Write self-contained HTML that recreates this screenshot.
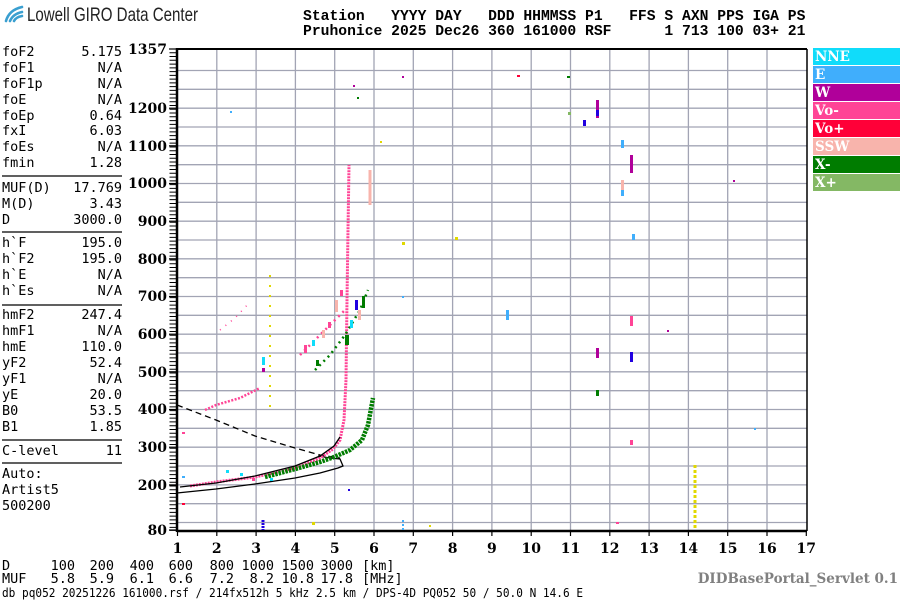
<!DOCTYPE html>
<html><head><meta charset="utf-8"><style>
html,body{margin:0;padding:0;background:#fff;width:900px;height:600px;overflow:hidden}
svg{display:block}
.m{font-family:"DejaVu Sans Mono","Liberation Mono",monospace;font-size:13.5px;fill:#000}
.h{font-family:"Liberation Mono","DejaVu Sans Mono",monospace;font-size:14.7px;font-weight:bold;fill:#000}
.t{font-family:"DejaVu Serif","Liberation Serif",serif;font-size:14px;font-weight:bold;fill:#000}
.lg{font-family:"DejaVu Serif","Liberation Serif",serif;font-size:13.5px;font-weight:bold;fill:#fff}
.b{font-family:"DejaVu Sans Mono","Liberation Mono",monospace;font-size:12.5px;fill:#000}
</style></head><body>
<svg width="900" height="600" viewBox="0 0 900 600" xmlns="http://www.w3.org/2000/svg">
<g fill="none" stroke="#3a9fd0" stroke-width="2.6" stroke-linecap="round">
<path d="M6 21 Q9 10 22 7"/><path d="M10 21 Q13 14 22 12"/><path d="M14 21 Q16 17 22 16"/>
</g>
<text x="27" y="21" font-family="'Liberation Sans Narrow','Liberation Sans',sans-serif" font-size="19.5" fill="#222" textLength="171" lengthAdjust="spacingAndGlyphs">Lowell GIRO Data Center</text>
<text class="h" x="303" y="20" xml:space="preserve">Station   YYYY DAY   DDD HHMMSS P1   FFS S AXN PPS IGA PS</text>
<text class="h" x="303" y="35" xml:space="preserve">Pruhonice 2025 Dec26 360 161000 RSF      1 713 100 03+ 21</text>
<g class="m">
<text x="2" y="56">foF2</text><text x="122" y="56" text-anchor="end">5.175</text>
<text x="2" y="72">foF1</text><text x="122" y="72" text-anchor="end">N/A</text>
<text x="2" y="88">foF1p</text><text x="122" y="88" text-anchor="end">N/A</text>
<text x="2" y="104">foE</text><text x="122" y="104" text-anchor="end">N/A</text>
<text x="2" y="120">foEp</text><text x="122" y="120" text-anchor="end">0.64</text>
<text x="2" y="135">fxI</text><text x="122" y="135" text-anchor="end">6.03</text>
<text x="2" y="151">foEs</text><text x="122" y="151" text-anchor="end">N/A</text>
<text x="2" y="167">fmin</text><text x="122" y="167" text-anchor="end">1.28</text>
<text x="2" y="192">MUF(D)</text><text x="122" y="192" text-anchor="end">17.769</text>
<text x="2" y="208">M(D)</text><text x="122" y="208" text-anchor="end">3.43</text>
<text x="2" y="224">D</text><text x="122" y="224" text-anchor="end">3000.0</text>
<text x="2" y="247">h`F</text><text x="122" y="247" text-anchor="end">195.0</text>
<text x="2" y="263">h`F2</text><text x="122" y="263" text-anchor="end">195.0</text>
<text x="2" y="279">h`E</text><text x="122" y="279" text-anchor="end">N/A</text>
<text x="2" y="295">h`Es</text><text x="122" y="295" text-anchor="end">N/A</text>
<text x="2" y="319">hmF2</text><text x="122" y="319" text-anchor="end">247.4</text>
<text x="2" y="335">hmF1</text><text x="122" y="335" text-anchor="end">N/A</text>
<text x="2" y="351">hmE</text><text x="122" y="351" text-anchor="end">110.0</text>
<text x="2" y="367">yF2</text><text x="122" y="367" text-anchor="end">52.4</text>
<text x="2" y="383">yF1</text><text x="122" y="383" text-anchor="end">N/A</text>
<text x="2" y="399">yE</text><text x="122" y="399" text-anchor="end">20.0</text>
<text x="2" y="415">B0</text><text x="122" y="415" text-anchor="end">53.5</text>
<text x="2" y="431">B1</text><text x="122" y="431" text-anchor="end">1.85</text>
<text x="2" y="455">C-level</text><text x="122" y="455" text-anchor="end">11</text>
<text x="2" y="478">Auto:</text>
<text x="2" y="494">Artist5</text>
<text x="2" y="510">500200</text>
</g>
<g stroke="#000" stroke-width="1.2">
<line x1="2" y1="176" x2="122" y2="176"/><line x1="2" y1="232" x2="122" y2="232"/>
<line x1="2" y1="305" x2="122" y2="305"/><line x1="2" y1="440" x2="122" y2="440"/>
<line x1="2" y1="463" x2="122" y2="463"/>
</g>
<g stroke="#a2a4b4" stroke-width="1.3">
<line x1="216.8" y1="49" x2="216.8" y2="531"/><line x1="256.1" y1="49" x2="256.1" y2="531"/>
<line x1="295.4" y1="49" x2="295.4" y2="531"/><line x1="334.7" y1="49" x2="334.7" y2="531"/>
<line x1="374" y1="49" x2="374" y2="531"/><line x1="413.3" y1="49" x2="413.3" y2="531"/>
<line x1="452.6" y1="49" x2="452.6" y2="531"/><line x1="491.9" y1="49" x2="491.9" y2="531"/>
<line x1="531.2" y1="49" x2="531.2" y2="531"/><line x1="570.5" y1="49" x2="570.5" y2="531"/>
<line x1="609.8" y1="49" x2="609.8" y2="531"/><line x1="649.1" y1="49" x2="649.1" y2="531"/>
<line x1="688.4" y1="49" x2="688.4" y2="531"/><line x1="727.7" y1="49" x2="727.7" y2="531"/>
<line x1="767" y1="49" x2="767" y2="531"/>
<line x1="177" y1="70.5" x2="807" y2="70.5"/><line x1="177" y1="89.3" x2="807" y2="89.3"/>
<line x1="177" y1="108.2" x2="807" y2="108.2"/><line x1="177" y1="127" x2="807" y2="127"/>
<line x1="177" y1="145.8" x2="807" y2="145.8"/><line x1="177" y1="164.7" x2="807" y2="164.7"/>
<line x1="177" y1="183.5" x2="807" y2="183.5"/><line x1="177" y1="202.3" x2="807" y2="202.3"/>
<line x1="177" y1="221.2" x2="807" y2="221.2"/><line x1="177" y1="240" x2="807" y2="240"/>
<line x1="177" y1="258.8" x2="807" y2="258.8"/><line x1="177" y1="277.7" x2="807" y2="277.7"/>
<line x1="177" y1="296.5" x2="807" y2="296.5"/><line x1="177" y1="315.3" x2="807" y2="315.3"/>
<line x1="177" y1="334.2" x2="807" y2="334.2"/><line x1="177" y1="353" x2="807" y2="353"/>
<line x1="177" y1="371.8" x2="807" y2="371.8"/><line x1="177" y1="390.7" x2="807" y2="390.7"/>
<line x1="177" y1="409.5" x2="807" y2="409.5"/><line x1="177" y1="428.3" x2="807" y2="428.3"/>
<line x1="177" y1="447.2" x2="807" y2="447.2"/><line x1="177" y1="466" x2="807" y2="466"/>
<line x1="177" y1="484.9" x2="807" y2="484.9"/><line x1="177" y1="503.7" x2="807" y2="503.7"/>
<line x1="177" y1="522.5" x2="807" y2="522.5"/>
</g>
<g stroke="#000" fill="none">
<line x1="177" y1="49" x2="807" y2="49" stroke-width="2"/>
<line x1="807" y1="49" x2="807" y2="531" stroke-width="1.5"/>
<line x1="177" y1="48" x2="177" y2="532" stroke-width="2.5"/>
<line x1="177" y1="531" x2="807" y2="531" stroke-width="2.5"/>
</g>
<line x1="173" y1="49" x2="173" y2="531" stroke="#000" stroke-width="7" stroke-dasharray="1 2.767" stroke-dashoffset="0.5"/>
<g stroke="#000" stroke-width="1.2">
<line x1="169" y1="49" x2="177" y2="49"/><line x1="169" y1="108.2" x2="177" y2="108.2"/>
<line x1="169" y1="145.8" x2="177" y2="145.8"/><line x1="169" y1="183.5" x2="177" y2="183.5"/>
<line x1="169" y1="221.2" x2="177" y2="221.2"/><line x1="169" y1="258.8" x2="177" y2="258.8"/>
<line x1="169" y1="296.5" x2="177" y2="296.5"/><line x1="169" y1="334.2" x2="177" y2="334.2"/>
<line x1="169" y1="371.8" x2="177" y2="371.8"/><line x1="169" y1="409.5" x2="177" y2="409.5"/>
<line x1="169" y1="447.2" x2="177" y2="447.2"/><line x1="169" y1="484.9" x2="177" y2="484.9"/>
<line x1="169" y1="530" x2="177" y2="530"/>
</g>
<g stroke="#000" stroke-width="1.2">
<line x1="177.5" y1="531" x2="177.5" y2="536"/><line x1="216.8" y1="531" x2="216.8" y2="536"/><line x1="256.1" y1="531" x2="256.1" y2="536"/><line x1="295.4" y1="531" x2="295.4" y2="536"/><line x1="334.7" y1="531" x2="334.7" y2="536"/><line x1="374" y1="531" x2="374" y2="536"/><line x1="413.3" y1="531" x2="413.3" y2="536"/><line x1="452.6" y1="531" x2="452.6" y2="536"/><line x1="491.9" y1="531" x2="491.9" y2="536"/><line x1="531.2" y1="531" x2="531.2" y2="536"/><line x1="570.5" y1="531" x2="570.5" y2="536"/><line x1="609.8" y1="531" x2="609.8" y2="536"/><line x1="649.1" y1="531" x2="649.1" y2="536"/><line x1="688.4" y1="531" x2="688.4" y2="536"/><line x1="727.7" y1="531" x2="727.7" y2="536"/><line x1="767" y1="531" x2="767" y2="536"/><line x1="806.3" y1="531" x2="806.3" y2="536"/>
</g>
<g class="t" text-anchor="end">
<text x="167" y="54">1357</text><text x="167" y="113">1200</text><text x="167" y="151">1100</text>
<text x="167" y="188">1000</text><text x="167" y="226">900</text><text x="167" y="264">800</text>
<text x="167" y="301">700</text><text x="167" y="339">600</text><text x="167" y="377">500</text>
<text x="167" y="414">400</text><text x="167" y="452">300</text><text x="167" y="490">200</text>
<text x="167" y="535">80</text>
</g>
<g class="t" text-anchor="middle">
<text x="177.5" y="553">1</text><text x="216.8" y="553">2</text><text x="256.1" y="553">3</text><text x="295.4" y="553">4</text><text x="334.7" y="553">5</text><text x="374" y="553">6</text><text x="413.3" y="553">7</text><text x="452.6" y="553">8</text><text x="491.9" y="553">9</text><text x="531.2" y="553">10</text><text x="570.5" y="553">11</text><text x="609.8" y="553">12</text><text x="649.1" y="553">13</text><text x="688.4" y="553">14</text><text x="727.7" y="553">15</text><text x="767" y="553">16</text><text x="806.3" y="553">17</text>
</g>
<rect x="813" y="48" width="87" height="17" fill="#10dcfa"/><text class="lg" x="815" y="61">NNE</text>
<rect x="813" y="66" width="87" height="17" fill="#40aefc"/><text class="lg" x="815" y="79">E</text>
<rect x="813" y="84" width="87" height="17" fill="#b0009a"/><text class="lg" x="815" y="97">W</text>
<rect x="813" y="102" width="87" height="17" fill="#ff4496"/><text class="lg" x="815" y="115">Vo-</text>
<rect x="813" y="120" width="87" height="17" fill="#ff0038"/><text class="lg" x="815" y="133">Vo+</text>
<rect x="813" y="138" width="87" height="17" fill="#f8b4ac"/><text class="lg" x="815" y="151">SSW</text>
<rect x="813" y="156" width="87" height="17" fill="#007c00"/><text class="lg" x="815" y="169">X-</text>
<rect x="813" y="174" width="87" height="17" fill="#84b864"/><text class="lg" x="815" y="187">X+</text>
<g fill="none">
<polyline points="177,493 216,489 255,484 295,478 320,473 338,468 343,466 340,459 330,458 318,456" stroke="#000" stroke-width="1.3"/>
<polyline points="177,405 216,420 255,436 295,448 320,455 340,458" stroke="#000" stroke-width="1.3" stroke-dasharray="6 4"/>
<polyline points="190,486 216,482 255,477 295,468 320,458 333,449 340,440 344,420 346,380 347,300 348,230 349,165" stroke="#ff4496" stroke-width="3" stroke-dasharray="2 1"/>
<polyline points="180,487 216,483 255,476 295,466 320,456 334,446 340,437" stroke="#000" stroke-width="1.3"/>
<polyline points="205,410 216,405 240,398 260,388" stroke="#ff4496" stroke-width="2.5" stroke-dasharray="2 1.5"/>
<polyline points="265,477 299,468 320,462 334,457 350,450 362,440 368,425 373,398" stroke="#007c00" stroke-width="4.5" stroke-dasharray="2.5 1"/>
<polyline points="300,355 320,335 335,320 345,310" stroke="#ff4496" stroke-width="2.5" stroke-dasharray="2 4"/>
<polyline points="315,370 330,355 345,335 360,310 368,290" stroke="#007c00" stroke-width="2.5" stroke-dasharray="2 4"/>
<polyline points="220,330 235,318 250,302" stroke="#ff4496" stroke-width="1.5" stroke-dasharray="1 6"/>
<polyline points="270,275 270,410" stroke="#e0d800" stroke-width="2" stroke-dasharray="2 8"/>
<polyline points="695,465 695,530" stroke="#e0d800" stroke-width="3" stroke-dasharray="3 2"/>
<polyline points="370,170 370,205" stroke="#f8b4ac" stroke-width="3"/>
<polyline points="263,520 263,530" stroke="#2000e0" stroke-width="3" stroke-dasharray="2 1"/>
<polyline points="403,520 403,530" stroke="#40aefc" stroke-width="2" stroke-dasharray="2 2"/>
</g>
<g>
<rect x="304" y="345" width="3" height="8" fill="#ff4496"/><rect x="312" y="340" width="3" height="6" fill="#10dcfa"/>
<rect x="322" y="330" width="3" height="8" fill="#f8b4ac"/><rect x="328" y="322" width="3" height="6" fill="#ff4496"/>
<rect x="335" y="300" width="3" height="12" fill="#f8b4ac"/><rect x="340" y="290" width="3" height="6" fill="#ff4496"/>
<rect x="355" y="300" width="3" height="10" fill="#2000e0"/><rect x="358" y="310" width="3" height="10" fill="#f8b4ac"/>
<rect x="362" y="296" width="3" height="12" fill="#007c00"/><rect x="345" y="335" width="4" height="10" fill="#007c00"/>
<rect x="350" y="320" width="3" height="8" fill="#10dcfa"/><rect x="316" y="360" width="3" height="6" fill="#007c00"/>
<rect x="226" y="470" width="3" height="3" fill="#10dcfa"/><rect x="240" y="473" width="3" height="3" fill="#10dcfa"/>
<rect x="252" y="478" width="3" height="3" fill="#ff4496"/><rect x="270" y="478" width="3" height="3" fill="#10dcfa"/>
<rect x="262" y="357" width="3" height="8" fill="#10dcfa"/><rect x="262" y="368" width="3" height="4" fill="#b0009a"/>
<rect x="596" y="100" width="3" height="18" fill="#b0009a"/><rect x="596" y="110" width="3" height="6" fill="#2000e0"/>
<rect x="583" y="120" width="3" height="6" fill="#2000e0"/><rect x="568" y="112" width="3" height="3" fill="#84b864"/>
<rect x="621" y="140" width="3" height="8" fill="#40aefc"/><rect x="630" y="155" width="3" height="18" fill="#b0009a"/>
<rect x="621" y="180" width="3" height="12" fill="#f8b4ac"/><rect x="621" y="190" width="3" height="6" fill="#40aefc"/>
<rect x="632" y="234" width="3" height="6" fill="#40aefc"/><rect x="630" y="316" width="3" height="10" fill="#ff4496"/>
<rect x="596" y="348" width="3" height="10" fill="#b0009a"/><rect x="630" y="352" width="3" height="10" fill="#2000e0"/>
<rect x="596" y="390" width="3" height="6" fill="#007c00"/><rect x="630" y="440" width="3" height="5" fill="#ff4496"/>
<rect x="517" y="75" width="3" height="2" fill="#ff0038"/><rect x="567" y="76" width="3" height="2" fill="#007c00"/>
<rect x="402" y="76" width="2" height="2" fill="#b0009a"/><rect x="455" y="237" width="3" height="3" fill="#e0d800"/>
<rect x="402" y="242" width="3" height="3" fill="#e0d800"/><rect x="402" y="296" width="2" height="2" fill="#40aefc"/>
<rect x="506" y="310" width="3" height="10" fill="#40aefc"/><rect x="182" y="432" width="3" height="2" fill="#ff4496"/>
<rect x="182" y="476" width="3" height="2" fill="#40aefc"/><rect x="182" y="503" width="3" height="2" fill="#ff0038"/>
<rect x="754" y="428" width="2" height="2" fill="#40aefc"/>
<rect x="667" y="330" width="2" height="2" fill="#b0009a"/><rect x="616" y="522" width="3" height="2" fill="#ff4496"/>
<rect x="733" y="180" width="2" height="2" fill="#b0009a"/><rect x="312" y="522" width="3" height="3" fill="#e0d800"/>
<rect x="348" y="489" width="2" height="2" fill="#2000e0"/><rect x="230" y="111" width="2" height="2" fill="#40aefc"/>
<rect x="357" y="97" width="2" height="2" fill="#007c00"/><rect x="353" y="85" width="2" height="2" fill="#b0009a"/>
<rect x="380" y="141" width="2" height="2" fill="#e0d800"/><rect x="429" y="525" width="2" height="2" fill="#e0d800"/>
</g>
<g class="m">
<text x="2" y="570">D</text><text x="75" y="570" text-anchor="end">100</text><text x="114" y="570" text-anchor="end">200</text><text x="154" y="570" text-anchor="end">400</text><text x="193" y="570" text-anchor="end">600</text><text x="234" y="570" text-anchor="end">800</text><text x="274" y="570" text-anchor="end">1000</text><text x="314" y="570" text-anchor="end">1500</text><text x="353" y="570" text-anchor="end">3000</text><text x="362" y="570">[km]</text>
<text x="2" y="583">MUF</text><text x="75" y="583" text-anchor="end">5.8</text><text x="114" y="583" text-anchor="end">5.9</text><text x="154" y="583" text-anchor="end">6.1</text><text x="193" y="583" text-anchor="end">6.6</text><text x="234" y="583" text-anchor="end">7.2</text><text x="274" y="583" text-anchor="end">8.2</text><text x="314" y="583" text-anchor="end">10.8</text><text x="353" y="583" text-anchor="end">17.8</text><text x="362" y="583">[MHz]</text>
</g>
<text class="b" x="2" y="597" textLength="581" lengthAdjust="spacingAndGlyphs">db pq052 20251226 161000.rsf / 214fx512h 5 kHz 2.5 km / DPS-4D PQ052 50 / 50.0 N 14.6 E</text>
<text x="898" y="583" text-anchor="end" font-family="'DejaVu Serif','Liberation Serif',serif" font-size="13.5" font-weight="bold" fill="#808080">DIDBasePortal_Servlet 0.1</text>
</svg>
</body></html>
